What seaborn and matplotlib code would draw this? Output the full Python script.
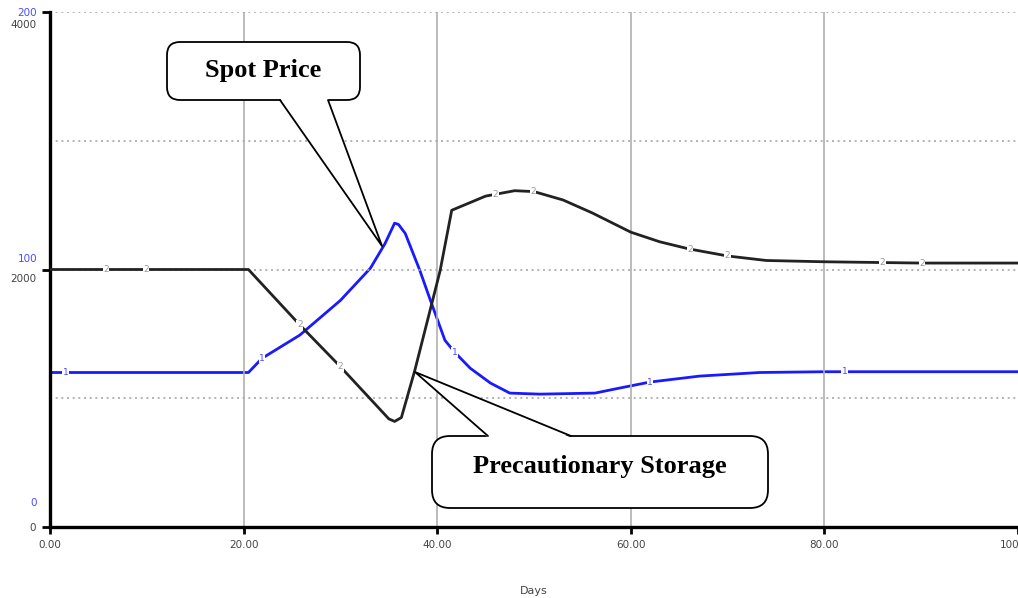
import numpy as np
import pandas as pd
import seaborn as sns
import matplotlib.pyplot as plt
from matplotlib.patches import FancyBboxPatch, Polygon
from matplotlib.transforms import Affine2D, ScaledTranslation

# Spot price (series 1, right-hand scale 0-200, drawn in blue)
price_days = [0, 20.5, 21.9, 25.8, 30.0, 33.1, 34.6, 35.6, 36.0, 36.7, 38.2, 39.3,
              40.8, 41.8, 43.4, 45.5, 47.5, 50.6, 56.3, 58.9, 62.0, 67.1, 73.3, 80, 100]
price_vals = [60, 60, 65.5, 74.5, 88, 100.5, 110, 118, 117.5, 114, 99.7, 88,
              72.5, 67.9, 61.7, 55.9, 52, 51.6, 52, 54, 56.3, 58.6, 60, 60.3, 60.3]

# Precautionary storage (series 2, left-hand scale 0-4000, drawn in black)
storage_days = [0, 20.5, 25.8, 30.0, 35.0, 35.6, 36.3, 37.7, 40.3, 41.5, 45, 48, 50,
                53, 56, 60, 63, 66, 70, 74, 80, 90, 100]
storage_vals = [2000, 2000, 1570, 1245, 840, 820, 850, 1220, 1990, 2460, 2570, 2612, 2605,
                2540, 2440, 2290, 2215, 2160, 2105, 2070, 2060, 2050, 2050]

price_marker_days = [1.6, 21.9, 41.8, 62.0, 82.1]
storage_marker_days = [5.8, 9.9, 25.8, 30.0, 46.0, 49.9, 66.1, 70.0, 86.0, 90.1]

x_ticks = [0, 20, 40, 60, 80, 100]
x_tick_labels = ['0.00', '20.00', '40.00', '60.00', '80.00', '100.00']
storage_ticks = [0, 2000, 4000]
price_ticks = [0, 100, 200]

price_df = pd.DataFrame({'Days': price_days, 'Spot Price': price_vals})
storage_df = pd.DataFrame({'Days': storage_days, 'Storage': storage_vals})

sns.set_style('white')
plt.rcParams['font.family'] = ['DejaVu Sans']

fig = plt.figure(figsize=(10.18, 5.98), dpi=100)
ax = fig.add_axes([50 / 1018, 1 - 527 / 598, 968 / 1018, 515 / 598])
ax.set_xlim(0, 100)
ax.set_ylim(0, 4000)

# grid
for d in [20, 40, 60, 80]:
    ax.axvline(d, color='#b0b0b0', lw=1.2, zorder=0)
for v in [1000, 2000, 3000, 4000]:
    ax.axhline(v, color='#a8a8a8', lw=1.2, ls=(0, (1.2, 2.2)), zorder=0)

sns.lineplot(data=storage_df, x='Days', y='Storage', ax=ax, color='#222222',
             lw=2.0, zorder=3)

ax2 = ax.twinx()
ax2.set_ylim(0, 200)
sns.lineplot(data=price_df, x='Days', y='Spot Price', ax=ax2, color='#1a1aff',
             lw=2.0, zorder=3)
ax2.set_xlim(0, 100)

# series number markers
for d in storage_marker_days:
    ax.text(d, np.interp(d, storage_days, storage_vals), '2', fontsize=6.5,
            color='#999999', ha='center', va='center', zorder=4,
            bbox=dict(boxstyle='square,pad=0.05', fc='white', ec='none'))
for d in price_marker_days:
    ax2.text(d, np.interp(d, price_days, price_vals), '1', fontsize=6.5,
             color='#4a4aff', ha='center', va='center', zorder=4,
             bbox=dict(boxstyle='square,pad=0.05', fc='white', ec='none'))

# axes styling
for s in ['top', 'right']:
    ax.spines[s].set_visible(False)
for s in ax2.spines.values():
    s.set_visible(False)
ax.spines['left'].set_linewidth(2.4)
ax.spines['bottom'].set_linewidth(2.4)
ax.spines['left'].set_color('black')
ax.spines['bottom'].set_color('black')

ax.set_xticks(x_ticks)
ax.set_xticklabels(x_tick_labels)
ax.set_yticks(storage_ticks)
ax.set_yticklabels([str(t) for t in storage_ticks])
ax.tick_params(axis='x', length=5, width=2, color='black', labelsize=7.5,
               labelcolor='#444444', pad=4, bottom=True)
ax.tick_params(axis='y', length=6, width=2, color='black', labelsize=7.5,
               labelcolor='#444444', pad=4, left=True)

ax2.yaxis.set_ticks_position('left')
ax2.set_yticks(price_ticks)
ax2.set_yticklabels([str(t) for t in price_ticks])
ax2.tick_params(axis='y', length=0, labelsize=7.5, labelcolor='#4a4aff',
                pad=13 * 0.72, left=True, right=False, labelleft=True,
                labelright=False)
ax2.set_ylabel('')

# shift the stacked left labels like the original
for lab, dy in zip(ax.get_yticklabels(), [0, -8, -12]):
    lab.set_transform(lab.get_transform() + ScaledTranslation(0, dy / 100, fig.dpi_scale_trans))
for lab, dy in zip(ax2.get_yticklabels(), [25, 12, 0]):
    lab.set_transform(lab.get_transform() + ScaledTranslation(0, dy / 100, fig.dpi_scale_trans))

ax.set_xlabel('Days', fontsize=8, color='#444444', labelpad=26)
ax.set_ylabel('')

ax.set_zorder(ax2.get_zorder() + 1)
ax.patch.set_visible(False)

# callouts, laid out in picture pixels (origin top-left)
px = Affine2D().scale(0.01, -0.01).translate(0, 5.98) + fig.dpi_scale_trans


def callout(text, box, base, tip, text_y, rounding, tail_from_top=True):
    x0, y0, x1, y1 = box
    fig.patches.append(FancyBboxPatch(
        (x0, y0), x1 - x0, y1 - y0,
        boxstyle=f'round,pad=0,rounding_size={rounding}',
        fc='white', ec='black', lw=1.3, zorder=6, transform=px))
    bx0, bx1 = base
    edge = y0 if tail_from_top else y1
    inner = edge + 1.5 if tail_from_top else edge - 1.5
    fig.patches.append(Polygon([(bx0, inner), (bx1, inner), tip], closed=True,
                               fc='white', ec='none', zorder=7, transform=px))
    fig.lines.append(plt.Line2D([bx0, tip[0], bx1], [edge, tip[1], edge], color='black',
                                lw=1.3, zorder=8, transform=px))
    fig.text((x0 + x1) / 2, text_y, text, fontsize=19, fontweight='bold',
             family='Liberation Serif', color='black', ha='center', va='center',
             zorder=9, transform=px)


callout('Spot Price', (167, 42, 360, 100), (280, 328), (382, 246), 70, 13,
        tail_from_top=False)
callout('Precautionary Storage', (432, 436, 768, 508), (488, 571), (415, 372), 466, 18)

fig.savefig('out.png', dpi=100)
